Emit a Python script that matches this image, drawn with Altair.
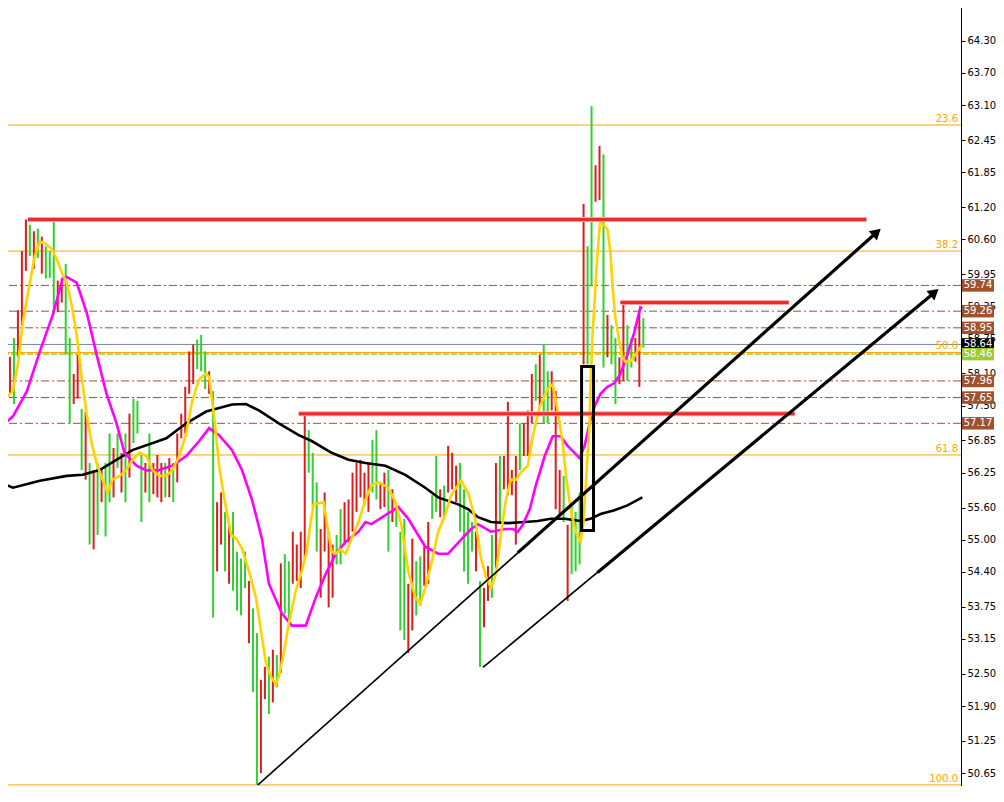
import altair as alt
import pandas as pd

W, H = 961, 786

# ---------------- price bars (one per bar index, oldest first) ----------------
bar_high = [58.18, 58.09, 58.41, 58.76, 59.28, 60.38, 60.97, 60.87, 60.75, 60.80,
            60.65, 60.47, 60.38, 60.93, 59.83, 59.87, 60.14, 58.76, 58.09, 58.45,
            57.44, 57.39, 56.43, 56.30, 56.43, 56.30, 56.43, 56.98, 56.71, 56.98,
            56.62, 56.98, 57.35, 57.63, 57.59, 56.58, 56.43, 56.98, 56.43, 56.58,
            56.43, 56.43, 56.52, 56.43, 56.98, 57.35, 57.85, 58.51, 58.64, 58.73,
            58.82, 58.51, 58.14, 57.77, 55.70, 55.88, 55.52, 55.28, 55.52, 54.78,
            54.65, 54.78, 54.23, 53.72, 53.26, 52.39, 52.63, 52.82, 52.95, 52.85,
            54.56, 54.73, 54.60, 55.15, 54.91, 55.15, 57.31, 57.04, 56.62, 56.07,
            55.20, 55.88, 55.15, 54.91, 55.09, 55.57, 55.70, 55.75, 56.25, 56.43,
            56.49, 56.25, 56.43, 56.86, 57.04, 56.07, 56.25, 56.30, 55.94, 55.70,
            55.15, 55.39, 54.18, 55.02, 54.60, 54.69, 54.87, 55.33, 55.83, 56.56,
            55.94, 56.01, 56.75, 56.62, 56.38, 56.43, 55.94, 55.52, 55.33, 55.15,
            54.23, 54.10, 54.51, 55.09, 56.43, 56.56, 56.56, 57.57, 56.30, 56.56,
            57.17, 57.17, 57.41, 58.09, 58.27, 58.45, 58.64, 58.14, 58.14, 57.77,
            56.30, 56.19, 55.28, 55.64, 55.52, 55.88, 61.26, 60.47, 63.08, 61.98,
            62.34, 62.18, 59.19, 59.00, 58.76, 58.40, 59.41, 59.00, 58.76, 58.76,
            59.24, 59.13]
bar_low = [57.35, 57.44, 57.72, 57.53, 58.41, 59.00, 60.01, 60.29, 60.05, 60.25,
           59.96, 59.87, 59.88, 59.19, 59.24, 59.42, 58.45, 57.17, 57.53, 57.63,
           56.30, 56.12, 54.91, 54.82, 55.09, 55.70, 55.06, 55.70, 55.79, 56.34,
           55.88, 55.70, 56.16, 56.80, 56.98, 55.33, 55.88, 55.70, 55.85, 55.79,
           55.70, 55.79, 55.79, 55.70, 56.07, 56.89, 56.98, 57.72, 57.90, 58.18,
           58.14, 57.81, 57.72, 53.55, 54.41, 54.91, 54.41, 54.18, 54.05, 53.68,
           53.59, 54.10, 53.07, 52.16, 50.43, 50.65, 52.03, 51.75, 51.97, 52.25,
           52.52, 53.62, 53.50, 54.18, 54.23, 54.10, 54.65, 56.25, 55.61, 54.78,
           53.92, 54.78, 53.74, 53.92, 54.54, 54.54, 54.91, 54.96, 55.15, 55.52,
           55.79, 55.64, 55.52, 55.88, 55.75, 55.57, 55.61, 54.78, 55.33, 55.24,
           53.31, 53.13, 52.89, 53.31, 53.59, 53.77, 54.14, 54.18, 55.39, 55.52,
           55.42, 55.39, 55.88, 55.94, 55.70, 55.15, 54.41, 54.18, 54.78, 54.41,
           52.63, 53.37, 53.86, 53.92, 54.47, 55.33, 55.94, 55.83, 55.83, 54.91,
           56.30, 56.56, 56.56, 57.17, 57.59, 57.48, 57.17, 57.17, 57.41, 55.57,
           55.46, 55.33, 53.86, 54.36, 54.41, 54.54, 58.27, 58.27, 59.74, 61.30,
           61.33, 58.21, 58.40, 58.27, 57.53, 57.90, 57.96, 57.96, 58.21, 58.32,
           57.85, 58.58]
bar_dir = list("DUDUDDDUDU" "DUUUDDUUDD" "UDUDUDUUDU" "DUDUUUDUDD"
               "DUDUDDDDDU" "UUDUDDUDUU" "UUDUUDDUDU" "DUUDDDDUUU"
               "DDDDUUDDDD" "DDDUUDDUDU" "UUDDUUDDUU" "DUDDDUUUUD"
               "UDDUDUDDDD" "UDDDUDUUDD" "DUDUUUDUUD" "DUDUUDDUUD" "DU")

# ---------------- moving averages (bar index, price) ----------------
yel_t = [-0.5, 1.25, 2.75, 4.0, 5.25, 7.0, 8.25, 9.5, 10.75, 12.5, 13.75, 15.0, 16.25, 17.5,
         18.75, 20.0, 21.25, 22.5, 23.75, 25.25, 26.5, 27.75, 29.5, 31.25, 32.75, 34.5, 36.25,
         37.75, 39.5, 41.25, 42.75, 44.5, 46.25, 47.75, 49.5, 51.25, 52.0, 53.25, 54.5, 55.75,
         57.5, 58.75, 60.25, 62.0, 63.75, 65.0, 66.25, 67.5, 68.75, 69.5, 70.75, 72.0, 73.75,
         75.25, 76.5, 77.5, 78.25, 80.75, 81.5, 82.75, 83.75, 85.0, 86.25, 87.75, 89.5, 91.25,
         92.75, 94.5, 97.0, 98.75, 100.25, 102.0, 103.75, 105.0, 106.25, 107.75, 109.5, 111.25,
         112.75, 115.25, 117.0, 118.75, 120.25, 121.5, 122.75, 124.0, 125.25, 126.5, 127.75,
         129.0, 130.25, 132.0, 133.25, 135.0, 137.0, 138.25, 139.5, 140.75, 141.5, 142.75,
         144.0, 145.25, 146.0, 146.5, 147.5, 147.75, 148.25, 148.75, 149.5, 150.25, 150.75,
         152.0, 152.75, 153.25, 154.0, 155.0, 155.75, 156.5, 157.75, 158.75, 159.5, 160.75]
yel_p = [57.53, 57.66, 57.77, 58.27, 59.06, 59.79, 60.29, 60.56, 60.53, 60.42, 60.23, 59.98,
         59.79, 59.37, 58.82, 58.03, 57.35, 56.80, 56.43, 56.12, 55.88, 56.12, 56.19, 56.30,
         56.49, 56.62, 56.56, 56.30, 56.19, 56.19, 56.30, 56.56, 56.98, 57.59, 57.99, 58.10,
         58.03, 57.30, 56.38, 55.79, 55.09, 55.02, 54.84, 54.41, 53.92, 53.31, 52.71, 52.45,
         52.30, 52.45, 52.89, 53.44, 54.05, 54.41, 54.78, 55.33, 55.66, 55.70, 55.33, 54.78,
         54.74, 54.82, 54.74, 55.02, 55.33, 55.75, 56.01, 56.07, 55.97, 55.70, 55.28, 54.41,
         53.92, 53.81, 54.10, 54.54, 55.15, 55.46, 55.83, 56.10, 55.88, 55.39, 54.65, 54.32,
         54.10, 54.36, 55.09, 55.75, 56.12, 56.12, 56.25, 56.38, 56.93, 57.48, 57.81, 57.90,
         57.41, 56.80, 56.25, 55.57, 55.15, 54.96, 55.33, 55.94, 57.17, 57.90, 58.82, 59.43,
         60.34, 61.02, 60.89, 60.78, 60.34, 59.74, 59.13, 58.69, 58.40, 58.32, 58.32, 58.42,
         58.51, 58.64]
mag_t = [-0.5, 1.25, 2.75, 6.25, 9.5, 12.75, 15.25, 16.25, 18.75, 21.25, 23.75, 26.25, 28.75,
         30.75, 33.75, 36.25, 39.5, 42.75, 46.25, 49.5, 52.0, 54.5, 57.75, 60.25, 62.75, 65.25,
         67.0, 70.25, 72.75, 76.25, 78.75, 81.25, 83.75, 86.25, 89.5, 91.25, 92.75, 96.25, 99.5,
         102.0, 106.25, 109.5, 112.0, 115.25, 117.75, 119.5, 122.75, 126.5, 128.25, 129.5,
         130.75, 132.5, 134.0, 136.25, 138.25, 140.25, 142.0, 143.75, 145.0, 146.25, 147.5,
         148.75, 150.25, 152.0, 153.75, 155.25, 157.0, 158.75, 160.25, 160.75]
mag_p = [57.30, 57.20, 57.30, 57.77, 58.51, 59.19, 59.87, 59.90, 59.79, 59.24, 58.45, 57.72,
         57.17, 56.62, 56.38, 56.29, 56.30, 56.38, 56.56, 56.84, 57.08, 56.95, 56.67, 56.30,
         55.75, 55.02, 54.18, 53.63, 53.40, 53.40, 53.92, 54.36, 54.73, 54.96, 55.15, 55.33,
         55.29, 55.46, 55.61, 55.39, 54.87, 54.74, 54.74, 55.00, 55.20, 55.29, 55.15, 55.20,
         55.20, 55.15, 55.28, 55.57, 56.01, 56.56, 56.93, 56.93, 56.75, 56.62, 56.52, 56.75,
         57.17, 57.48, 57.72, 57.85, 57.92, 58.09, 58.45, 58.87, 59.33, 59.31]
blk_t = [-0.5, 2.75, 9.5, 16.25, 20.25, 24.5, 32.75, 41.25, 46.25, 51.25, 57.75, 61.25, 64.5,
         69.5, 74.5, 77.75, 82.75, 87.0, 91.25, 96.25, 101.25, 106.25, 109.5, 114.5, 117.0,
         119.5, 122.75, 127.0, 131.25, 134.5, 137.75, 141.25, 145.25, 147.75, 150.25, 153.75,
         157.0, 160.75]
blk_p = [56.07, 55.97, 56.10, 56.19, 56.21, 56.30, 56.67, 56.89, 57.17, 57.39, 57.52, 57.53,
         57.41, 57.17, 56.95, 56.84, 56.62, 56.49, 56.43, 56.38, 56.21, 55.97, 55.79, 55.66,
         55.57, 55.42, 55.33, 55.31, 55.33, 55.35, 55.39, 55.39, 55.35, 55.39, 55.48, 55.55,
         55.64, 55.79]

# ---------------- horizontal levels ----------------
dash_levels = [59.74, 59.26, 58.95, 57.96, 57.65, 57.17]
dash_labels = ["59.74", "59.26", "58.95", "57.96", "57.65", "57.17"]
last_price = [58.64]
bid_level = [58.46]
fib_levels = [62.73, 60.38, 58.49, 56.58, 50.43]
fib_labels = ["23.6", "38.2", "50.0", "61.8", "100.0"]
red_p = [60.97, 59.42, 57.35]
red_t1 = [6.5, 155.25, 74.5]
red_t2 = [217.0, 197.5, 199.0]

# trend lines (bar index, price)
tl1_t = [64.25, 219.6]
tl1_p = [50.43, 60.73]
tl1_thick_t = [129.5, 219.6]
tl1_thick_p = [54.76, 60.73]
tl2_t = [120.75, 234.1]
tl2_p = [52.62, 59.61]
tl2_thick_t = [149.5, 234.1]
tl2_thick_p = [54.39, 59.61]

box_t = [145.5, 148.5]
box_p = [58.23, 55.17]

tick_values = [64.30, 63.70, 63.10, 62.45, 61.85, 61.20, 60.60, 59.95, 59.35, 58.75,
               58.10, 57.50, 56.85, 56.25, 55.60, 55.00, 54.40, 53.75, 53.15, 52.50,
               51.90, 51.25, 50.65]

# ---------------- chart ----------------
XS = alt.Scale(domain=[-0.5, 240.75], nice=False, zero=False)
YS = alt.Scale(domain=[50.41, 65.06], nice=False, zero=False)
YAX = alt.Axis(orient="right", values=tick_values, format=".2f", title=None, grid=False,
               domainColor="black", domainWidth=1, tickColor="black", tickSize=4,
               labelColor="black", labelFontSize=10, labelFont="DejaVu Sans",
               labelPadding=2, labelOverlap=False, labelFlush=False)


def X(f):
    return alt.X(f, scale=XS, axis=None)


def Y(f):
    return alt.Y(f, scale=YS, axis=YAX)


SIENNA = "#A0522D"
ORANGE = "#FFA500"

bars_df = pd.DataFrame({"t": list(range(len(bar_high))), "hi": bar_high, "lo": bar_low, "dir": bar_dir})

dash_df = pd.DataFrame({"p": dash_levels, "lab": dash_labels})
fib_df = pd.DataFrame({"p": fib_levels, "lab": fib_labels})

layers = []
layers.append(alt.Chart(dash_df).mark_rule(color=SIENNA, strokeWidth=1, strokeDash=[8, 3, 2, 3])
              .encode(y=Y("p:Q")))
layers.append(alt.Chart(pd.DataFrame({"p": last_price})).mark_rule(color="#778899", strokeWidth=1)
              .encode(y=Y("p:Q")))
layers.append(alt.Chart(fib_df).mark_rule(color=ORANGE, strokeWidth=1).encode(y=Y("p:Q")))
layers.append(alt.Chart(pd.DataFrame({"p": bid_level})).mark_rule(color="#9ACD32", strokeWidth=1.5,
                                                                   strokeDash=[6, 2])
              .encode(y=Y("p:Q")))
layers.append(alt.Chart(bars_df).mark_rule(strokeWidth=2).encode(
    x=X("t:Q"), y=Y("lo:Q"), y2="hi:Q",
    color=alt.Color("dir:N", scale=alt.Scale(domain=["U", "D"], range=["#2fd02f", "#dd1c1c"]),
                    legend=None)))
for tt, pp, col in [(blk_t, blk_p, "#000000"), (mag_t, mag_p, "#FF00FF"), (yel_t, yel_p, "#FFD200")]:
    layers.append(alt.Chart(pd.DataFrame({"t": tt, "p": pp})).mark_line(color=col, strokeWidth=2.6)
                  .encode(x=X("t:Q"), y=Y("p:Q")))
layers.append(alt.Chart(pd.DataFrame({"p": red_p, "t": red_t1, "t2": red_t2}))
              .mark_rule(color="#f6a5a5", strokeWidth=5).encode(x=X("t:Q"), x2="t2:Q", y=Y("p:Q")))
layers.append(alt.Chart(pd.DataFrame({"p": red_p, "t": red_t1, "t2": red_t2}))
              .mark_rule(color="#ee2b2b", strokeWidth=3).encode(x=X("t:Q"), x2="t2:Q", y=Y("p:Q")))
for tt, pp, sw in [(tl1_t, tl1_p, 1.6), (tl2_t, tl2_p, 1.6), (tl1_thick_t, tl1_thick_p, 3.2),
                   (tl2_thick_t, tl2_thick_p, 3.2)]:
    layers.append(alt.Chart(pd.DataFrame({"t": tt, "p": pp})).mark_line(color="black", strokeWidth=sw)
                  .encode(x=X("t:Q"), y=Y("p:Q")))
layers.append(alt.Chart(pd.DataFrame({"t": [tl1_t[1]], "p": [tl1_p[1]]}))
              .mark_point(shape="triangle-up", filled=True, color="black", size=150, angle=48, opacity=1)
              .encode(x=X("t:Q"), y=Y("p:Q")))
layers.append(alt.Chart(pd.DataFrame({"t": [tl2_t[1]], "p": [tl2_p[1]]}))
              .mark_point(shape="triangle-up", filled=True, color="black", size=150, angle=50, opacity=1)
              .encode(x=X("t:Q"), y=Y("p:Q")))
layers.append(alt.Chart(pd.DataFrame({"t": [box_t[0]], "t2": [box_t[1]], "p": [box_p[0]], "p2": [box_p[1]]}))
              .mark_rect(fillOpacity=0, stroke="black", strokeWidth=3)
              .encode(x=X("t:Q"), x2="t2:Q", y=Y("p:Q"), y2="p2:Q"))
layers.append(alt.Chart(fib_df).mark_text(align="right", baseline="bottom", dy=-1, color=ORANGE,
                                          fontSize=10, font="DejaVu Sans")
              .encode(x=alt.value(W - 3), y=Y("p:Q"), text="lab:N"))

# price boxes on the axis
for df, col in [(dash_df, SIENNA),
                (pd.DataFrame({"p": last_price, "lab": ["58.64"]}), "#000000"),
                (pd.DataFrame({"p": bid_level, "lab": ["58.46"]}), "#9ACD32")]:
    layers.append(alt.Chart(df).mark_rule(color=col, strokeWidth=12.5, strokeCap="butt")
                  .encode(y=Y("p:Q"), x=alt.value(W + 1), x2=alt.value(W + 33)))
    layers.append(alt.Chart(df).mark_text(align="center", baseline="middle", color="white",
                                          fontSize=10, font="DejaVu Sans")
                  .encode(y=Y("p:Q"), x=alt.value(W + 17), text="lab:N"))

chart = alt.layer(*layers).properties(
    width=W, height=H,
    autosize=alt.AutoSizeParams(type="none"),
    padding={"left": -8, "top": -8, "right": 35, "bottom": 0},
    background="white",
).configure_view(stroke=None)

chart.save("out.html", embed_options={"renderer": "svg", "actions": False})
